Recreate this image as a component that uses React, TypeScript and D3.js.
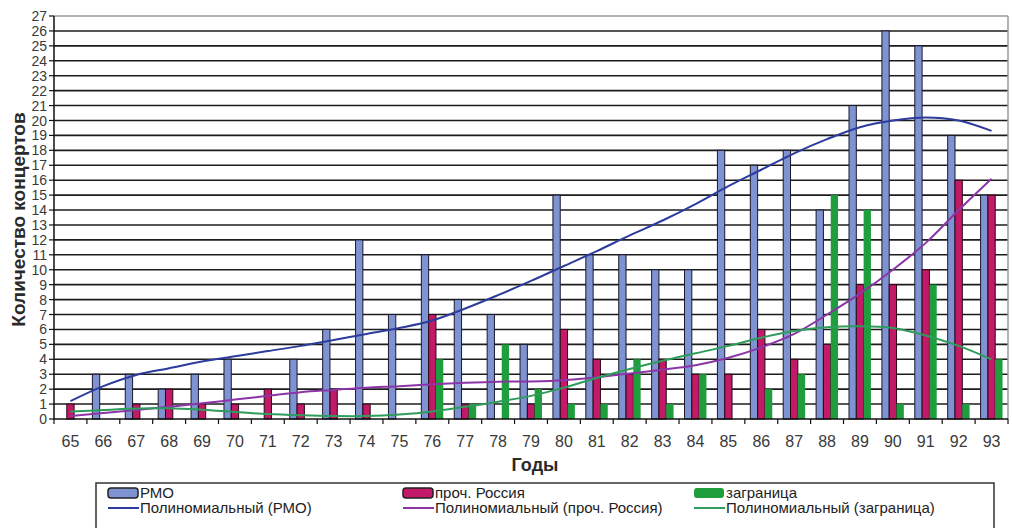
import React from "react";
import * as d3 from "d3";

const years = ["65","66","67","68","69","70","71","72","73","74","75","76","77","78","79","80","81","82","83","84","85","86","87","88","89","90","91","92","93"];
const rmo = [0,3,3,2,3,4,0,4,6,12,7,11,8,7,5,15,11,11,10,10,18,17,18,14,21,26,25,19,15];
const russia = [1,0,1,2,1,1,2,1,2,1,0,7,1,0,1,6,4,3,4,3,3,6,4,5,9,9,10,16,15];
const abroad = [0,0,0,0,0,0,0,0,0,0,0,4,1,5,2,1,1,4,1,3,0,2,3,15,14,1,9,1,4];
// trend lines (polynomial) at each category
const trendRmo = [1.2,2.2,2.95,3.4,3.85,4.2,4.55,4.9,5.3,5.7,6.1,6.6,7.4,8.3,9.25,10.25,11.25,12.3,13.3,14.4,15.6,16.7,17.8,18.75,19.55,20.0,20.2,20.0,19.3];
const trendRussia = [0.2,0.4,0.6,0.82,1.05,1.3,1.55,1.8,1.95,2.1,2.2,2.33,2.43,2.5,2.52,2.6,2.8,3.05,3.3,3.6,4.1,4.8,5.7,7.0,8.4,10.0,11.8,14.0,16.1];
const trendAbroad = [0.5,0.6,0.7,0.72,0.62,0.47,0.33,0.25,0.2,0.2,0.3,0.5,0.82,1.16,1.55,2.1,2.75,3.35,3.9,4.4,4.9,5.45,5.9,6.15,6.22,6.1,5.6,4.9,4.0];
const yTicks = d3.range(0, 28);

const seriesNames = ["РМО", "проч. Россия", "заграница"];
const trendNames = ["Полиномиальный (РМО)", "Полиномиальный (проч. Россия)", "Полиномиальный (заграница)"];
const barColors = ["#7f93d3", "#c21a68", "#1f9e3e"];
const barStrokes = ["#1a1a2a", "#2a0a14", "none"];
const lineColors = ["#2d3c9c", "#8b35a6", "#2e9c5a"];

const FONT = "'Liberation Sans', Arial, sans-serif";

export default function App() {
  const W = 1012, H = 528;
  const left = 54, right = 1008, top = 16, bottom = 419;
  const x = d3.scaleBand().domain(years).range([left, right]).paddingInner(0).paddingOuter(0);
  const xi = d3.scaleBand().domain(["0", "1", "2"]).range([0, x.bandwidth()]).paddingInner(0).paddingOuter(0.75);
  const y = d3.scaleLinear().domain([0, 27]).range([bottom, top]);
  const data = [rmo, russia, abroad];
  const trends = [trendRmo, trendRussia, trendAbroad];
  const line = d3.line<number>()
    .x((_, i) => (x(years[i]) as number) + x.bandwidth() / 2)
    .y((v) => y(v))
    .curve(d3.curveCatmullRom.alpha(0.5));

  const legX = [108, 403, 694];
  return (
    <svg width={W} height={H} style={{ position: "absolute", left: 0, top: 0, background: "#fff" }}>
      <rect x={0} y={0} width={W} height={H} fill="#fff" />
      {/* grid */}
      {yTicks.filter((t) => t > 0 && t < 27).map((t) => (
        <line key={"g" + t} x1={left} x2={right} y1={y(t)} y2={y(t)} stroke="#1c1c1c" strokeWidth={1.6} />
      ))}
      <line x1={left} x2={right} y1={y(27)} y2={y(27)} stroke="#9a9a9a" strokeWidth={1.5} />
      <line x1={right} x2={right} y1={y(27)} y2={bottom} stroke="#9a9a9a" strokeWidth={1.5} />
      {/* bars */}
      {data.map((vals, s) => vals.map((v, i) => v > 0 ? (
        <rect key={"b" + s + "-" + i}
          x={(x(years[i]) as number) + (xi(String(s)) as number)}
          y={y(v)} width={xi.bandwidth()} height={bottom - y(v)}
          fill={barColors[s]} stroke={barStrokes[s]} strokeWidth={s === 2 ? 0 : 1} />
      ) : null))}
      {/* trend lines */}
      {trends.map((t, s) => (
        <path key={"t" + s} d={line(t) as string} fill="none" stroke={lineColors[s]} strokeWidth={2} />
      ))}
      {/* axes */}
      <line x1={left} x2={left} y1={top} y2={bottom} stroke="#111" strokeWidth={1.5} />
      <line x1={left} x2={right} y1={bottom} y2={bottom} stroke="#111" strokeWidth={1.5} />
      {yTicks.map((t) => (
        <g key={"yt" + t}>
          <line x1={left - 5} x2={left} y1={y(t)} y2={y(t)} stroke="#111" strokeWidth={1.2} />
          <text x={47} y={y(t)} dy="0.36em" textAnchor="end" fontFamily={FONT} fontSize={14} fill="#3a3a3a">{t}</text>
        </g>
      ))}
      {years.map((yr) => (
        <g key={"xt" + yr}>
          <line x1={(x(yr) as number) + x.bandwidth()} x2={(x(yr) as number) + x.bandwidth()} y1={bottom} y2={bottom + 5} stroke="#111" strokeWidth={1.2} />
          <text x={(x(yr) as number) + x.bandwidth() / 2} y={441} dy="0.36em" textAnchor="middle" fontFamily={FONT} fontSize={16} fill="#3a3a3a">{yr}</text>
        </g>
      ))}
      <line x1={left} x2={left} y1={bottom} y2={bottom + 5} stroke="#111" strokeWidth={1.2} />
      <text transform={`translate(18,${(top + bottom) / 2 + 2}) rotate(-90)`} textAnchor="middle" dy="0.36em"
        fontFamily={FONT} fontWeight="bold" fontSize={19} fill="#2a2a2a">Количество концертов</text>
      <text x={(left + right) / 2 + 4} y={465} dy="0.36em" textAnchor="middle" fontFamily={FONT} fontWeight="bold" fontSize={18} fill="#2a2a2a">Годы</text>
      {/* legend */}
      <rect x={96} y={483} width={898} height={60} fill="#fff" stroke="#333" strokeWidth={1.5} />
      {seriesNames.map((n, s) => (
        <g key={"l" + s}>
          <rect x={legX[s]} y={488} width={30} height={10} rx={3} fill={barColors[s]} stroke={s === 2 ? "none" : "#222"} strokeWidth={1.5} />
          <text x={legX[s] + 32} y={493} dy="0.36em" fontFamily={FONT} fontSize={15} fill="#222">{n}</text>
          <line x1={legX[s]} x2={legX[s] + 31} y1={508} y2={508} stroke={lineColors[s]} strokeWidth={2} />
          <text x={legX[s] + 32} y={508} dy="0.36em" fontFamily={FONT} fontSize={15} fill="#222">{trendNames[s]}</text>
        </g>
      ))}
    </svg>
  );
}
